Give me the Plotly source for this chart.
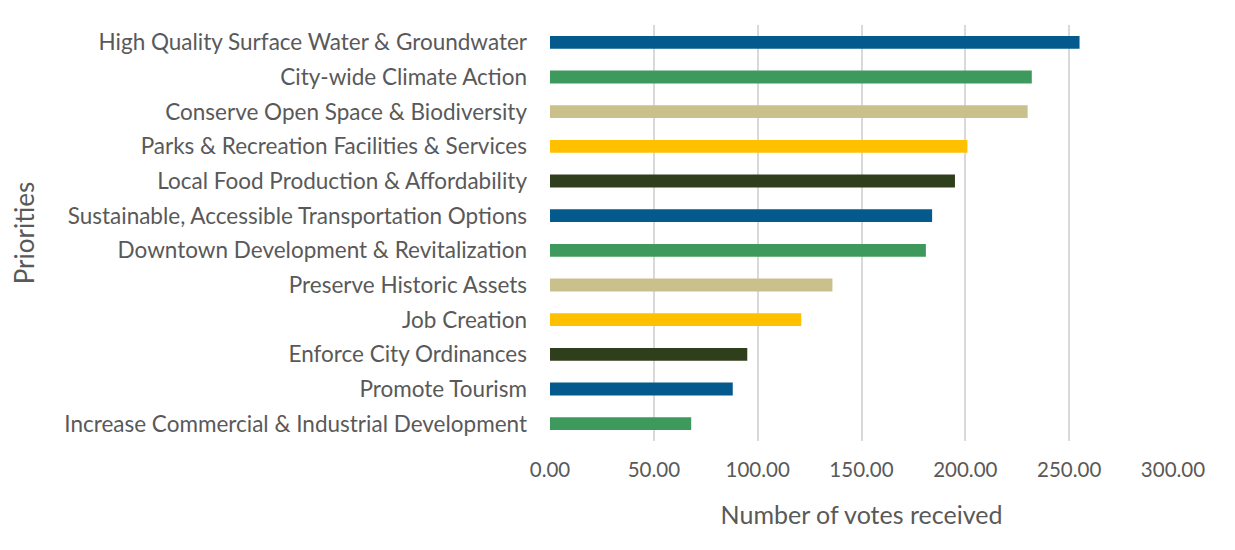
import plotly.graph_objects as go

categories = [
    "High Quality Surface Water & Groundwater",
    "City-wide Climate Action",
    "Conserve Open Space & Biodiversity",
    "Parks & Recreation Facilities & Services",
    "Local Food Production & Affordability",
    "Sustainable, Accessible Transportation Options",
    "Downtown Development & Revitalization",
    "Preserve Historic Assets",
    "Job Creation",
    "Enforce City Ordinances",
    "Promote Tourism",
    "Increase Commercial & Industrial Development",
]
votes = [255, 232, 230, 201, 195, 184, 181, 136, 121, 95, 88, 68]
bar_colors = ["#045A8D", "#3E9A5C", "#C9C08C", "#FFC000", "#2F3E1B",
              "#045A8D", "#3E9A5C", "#C9C08C", "#FFC000", "#2F3E1B",
              "#045A8D", "#3E9A5C"]
x_ticks = [0, 50, 100, 150, 200, 250, 300]
x_tick_labels = ["0.00", "50.00", "100.00", "150.00", "200.00", "250.00", "300.00"]

FONT = "Lato"
GREY = "#595959"

fig = go.Figure(go.Bar(
    y=categories[::-1],
    x=votes[::-1],
    orientation="h",
    marker=dict(color=bar_colors[::-1], line=dict(width=0)),
    width=0.37,
))

fig.update_layout(
    width=1227, height=542,
    margin=dict(l=542, r=62, t=17, b=109),
    paper_bgcolor="white", plot_bgcolor="white",
    showlegend=False,
    font=dict(family=FONT, color=GREY),
    xaxis=dict(
        range=[0, 300],
        tickvals=x_ticks, ticktext=x_tick_labels,
        showgrid=True, gridcolor="#D9D9D9", gridwidth=1.5,
        zeroline=False, showline=False,
        tickfont=dict(size=20.5, color=GREY),
        ticklabelstandoff=14,
        title=dict(text="Number of votes received", font=dict(size=25, color=GREY), standoff=26),
    ),
    yaxis=dict(
        showgrid=False, zeroline=False, showline=False,
        tickfont=dict(size=22.5, color=GREY),
        ticklabelstandoff=22,
        title=dict(text="Priorities", font=dict(size=26, color=GREY), standoff=22),
    ),
)

fig.write_html("out.html")
